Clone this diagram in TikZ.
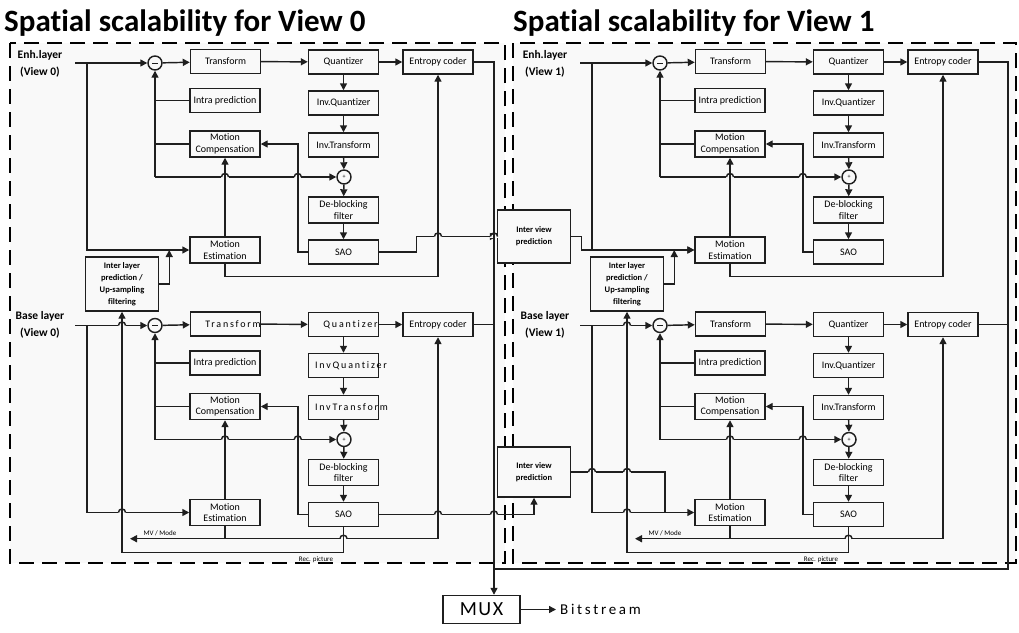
\documentclass[tikz,border=0pt]{standalone}
\usepackage{fontspec}
\setmainfont{Carlito}[Ligatures=NoCommon]
\usetikzlibrary{arrows.meta,calc}

\definecolor{bgc}{gray}{0.975}
\definecolor{ink}{gray}{0.12}

\tikzset{
  ln/.style={line width=1.45pt, draw=ink},
  arr/.style={ln, -{Triangle[length=7pt,width=7pt]}},
  blk/.style={draw=ink, line width=1.45pt, fill=bgc, minimum width=70pt, minimum height=24pt,
    inner sep=1pt, align=center, font=\fontsize{10}{11.5}\selectfont},
  blk2/.style={blk, minimum height=26pt},
  sumc/.style={circle, draw=ink, line width=1.45pt, fill=bgc, minimum size=14pt, inner sep=0pt,
    font=\fontsize{6}{6}\selectfont},
  bbox/.style={draw=ink, line width=1.45pt, fill=bgc, minimum width=73pt, align=center,
    inner sep=1pt, font=\bfseries\fontsize{8.5}{12}\selectfont},
  lbl/.style={align=center, inner sep=0pt, font=\bfseries\fontsize{11.5}{17}\selectfont},
  tiny/.style={inner sep=0pt, font=\fontsize{7}{8}\selectfont},
  ttl/.style={inner sep=0pt, font=\bfseries\fontsize{31}{34}\selectfont},
  frame/.style={draw=black, line width=2.3pt, dash pattern=on 15pt off 8pt},
}

% letter-spaced label, nudged to the right inside its box
\newcommand\spt[2]{\makebox[0pt]{\hspace{#1}\addfontfeature{LetterSpace=18}#2}}

% line hop where a horizontal line jumps over a vertical one
\newcommand\hop[1]{%
  \path #1 coordinate (hp);
  \fill[bgc] ([shift={(-3.6pt,-1.3pt)}]hp) rectangle ([shift={(3.6pt,1.3pt)}]hp);
  \draw[ln] ([xshift=-3.6pt]hp) .. controls ([shift={(-3.6pt,4.6pt)}]hp) and ([shift={(3.6pt,4.6pt)}]hp) .. ([xshift=3.6pt]hp);
  \draw[ln] ([yshift=-2pt]hp) -- ([yshift=2pt]hp);
}

% one coding layer: #1 prefix, #2/#3 shift, #4-#7 labels of the transform path
\newcommand\codec[7]{%
  \begin{scope}[shift={(#2,#3)}]
    \coordinate (#1in) at (75,63);
    \coordinate (#1br) at (87,63);
    \node[sumc] (#1c) at (155,63) {};
    \node[blk] (#1T) at (225.5,61.5) {#4};
    \node[blk] (#1Q) at (343.5,62) {#5};
    \node[blk] (#1E) at (438,62) {Entropy coder};
    \node[blk] (#1I) at (225,100.5) {Intra prediction};
    \node[blk2] (#1MC) at (225,144) {Motion\\Compensation};
    \node[blk] (#1IQ) at (343.5,103) {#6};
    \node[blk] (#1IT) at (343.5,145) {#7};
    \node[sumc] (#1p) at (344,177) {+};
    \node[blk2] (#1DB) at (343.5,210) {De-blocking\\filter};
    \node[blk] (#1S) at (343.5,252) {SAO};
    \node[blk2] (#1ME) at (225,250) {Motion\\Estimation};
  \end{scope}
  \draw[line width=0.8pt, draw=ink] ([xshift=-3pt]#1c.center) -- ([xshift=3pt]#1c.center);
  \draw[arr] (#1in) -- (#1c);
  \draw[arr] (#1c) -- (#1T);
  \draw[arr] (#1T) -- (#1Q);
  \draw[arr] (#1Q) -- (#1E);
  \draw[arr] (#1Q) -- (#1IQ);
  \draw[arr] (#1IQ) -- (#1IT);
  \draw[arr] (#1IT) -- (#1p);
  \draw[arr] (#1p) -- (#1DB);
  \draw[arr] (#1DB) -- (#1S);
  \coordinate (#1fb) at (#1c |- #1p);
  \draw[arr] (#1fb) -- (#1p);
  \draw[arr] (#1fb) -- (#1c);
  \draw[ln] (#1I.west) -- (#1I.west -| #1c);
  \draw[ln] (#1MC.west) -- (#1MC.west -| #1c);
  \coordinate (#1k) at ([xshift=-10pt]#1S.west);
  \draw[arr] (#1S.west) -- (#1k) |- (#1MC.east);
  \draw[arr] (#1ME) -- (#1MC);
  \coordinate (#1mv) at ([yshift=-12.5pt]#1ME.south);
  \draw[arr] (#1ME.south) -- (#1mv) -| (#1E.south);
  \draw[arr] (#1br) |- (#1ME.west);
  \hop{(#1MC |- #1p)}
  \hop{(#1k |- #1p)}
}

\begin{document}
\begin{tikzpicture}[x=1pt,y=-1pt]
\useasboundingbox (0,0) rectangle (1019,632);

% titles
\node[ttl, anchor=base west] at (4,31) {Spatial scalability for View 0};
\node[ttl, anchor=base west] at (513,31) {Spatial scalability for View 1};

% dashed frames of the two views
\fill[bgc] (10,43) rectangle (505,563);
\fill[bgc] (513,43) rectangle (1016,563);
\draw[frame] (10,43) rectangle (505,563);
\draw[frame] (513,43) rectangle (1016,563);

% input labels
\node[lbl] at (40,64) {Enh.layer\\(View 0)};
\node[lbl] at (40,325) {Base layer\\(View 0)};
\node[lbl] at (545,64) {Enh.layer\\(View 1)};
\node[lbl] at (545,325) {Base layer\\(View 1)};

% ---------- View 0 ----------
\codec{a}{0}{0}{Transform}{Quantizer}{Inv.Quantizer}{Inv.Transform}
\codec{b}{0}{262.5}{\spt{15pt}{Transform}}{\spt{14pt}{Quantizer}}{\spt{15pt}{InvQuantizer}}{\spt{16pt}{InvTransform}}

\node[bbox, minimum height=54pt] (IL0) at (122,284) {Inter layer\\prediction /\\Up-sampling\\filtering};
\coordinate (il0o) at ([xshift=10pt]IL0.east);
\draw[arr] (IL0.east) -- (il0o) -- (il0o |- aME.west);
\draw[arr] (bS.south) -- ++(0,25) -| (IL0.south);
\coordinate (mv0) at (130,0);
\draw[arr] (bmv) -- (bmv -| mv0);
\node[tiny, anchor=south] at (160,536) {MV / Mode};
\node[tiny, anchor=south] at (316,563) {Rec. picture};
\hop{(IL0 |- bc)}
\hop{(IL0 |- bME.west)}
\hop{(bS |- bmv)}

% ---------- View 1 ----------
\codec{c}{505}{0}{Transform}{Quantizer}{Inv.Quantizer}{Inv.Transform}
\codec{d}{505}{262.5}{Transform}{Quantizer}{Inv.Quantizer}{Inv.Transform}

\node[bbox, minimum height=54pt] (IL1) at (627,284) {Inter layer\\prediction /\\Up-sampling\\filtering};
\coordinate (il1o) at ([xshift=10pt]IL1.east);
\draw[arr] (IL1.east) -- (il1o) -- (il1o |- cME.west);
\draw[arr] (dS.south) -- ++(0,25) -| (IL1.south);
\coordinate (mv1) at (635,0);
\draw[arr] (dmv) -- (dmv -| mv1);
\node[tiny, anchor=south] at (665,536) {MV / Mode};
\node[tiny, anchor=south] at (821,563) {Rec. picture};

% ---------- inter view prediction ----------
\node[bbox, minimum height=53pt] (IVu) at (534,236.5) {Inter view\\prediction};
\node[bbox, minimum height=50pt] (IVl) at (534,472) {Inter view\\prediction};

\draw[arr] (aS.east) -- ++(37,0) |- (IVu.west);
\draw[arr] (bS.east) -| (IVl.south);

\coordinate (ivu) at ([xshift=10pt]IVu.east);
\draw[arr] (IVu.east) -- (ivu) |- (cME.west);
\coordinate (ivo) at (665,0);
\draw[ln] (IVl.east) -- (IVl.east -| ivo) -- (ivo |- dME.west);

% ---------- multiplexing ----------
\node[draw=ink, line width=1.45pt, fill=white, minimum width=77pt, minimum height=28pt, inner sep=0pt,
  font=\fontsize{20}{22}\selectfont\addfontfeature{LetterSpace=8}] (MUX) at (481.5,609.5) {MUX};
\coordinate (mxl) at (494,0);
\coordinate (rxl) at (1008,0);
\coordinate (bot) at (0,569);
\draw[arr] (aE.east) -- (aE.east -| mxl) -- (mxl |- MUX.north);
\draw[ln] (bE.east) -- (bE.east -| mxl);
\draw[ln] (cE.east) -- (cE.east -| rxl) -- (rxl |- bot) -- (bot -| mxl);
\draw[ln] (dE.east) -- (dE.east -| rxl);
\coordinate (bs) at (556,609.5);
\draw[arr] (MUX.east) -- (bs);
\node[anchor=west, inner sep=0pt, font=\fontsize{15}{17}\selectfont\addfontfeature{LetterSpace=18}] (BS) at ([xshift=4pt]bs) {Bitstream};

% hops over the vertical lines
\hop{(aE |- IVu.west)}
\hop{(mxl |- IVu.west)}
\hop{(bE |- bS)}
\hop{(mxl |- bS)}
\hop{(IL1 |- dc)}
\hop{(IL1 |- dME.west)}
\hop{(dS |- dmv)}
\hop{(dbr |- IVl.east)}
\hop{(IL1 |- IVl.east)}
\end{tikzpicture}
\end{document}
